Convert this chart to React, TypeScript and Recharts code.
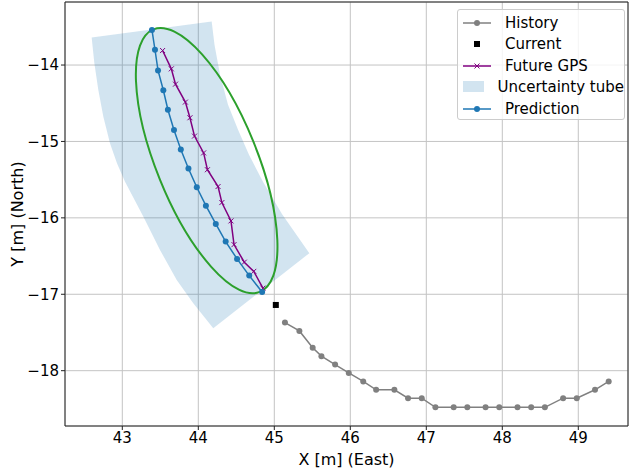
import React from "react";
import {
  CartesianGrid,
  ReferenceArea,
  Scatter,
  ScatterChart,
  XAxis,
  YAxis
} from "recharts";

// past track (gray)
const historyX = [45.14, 45.33, 45.505, 45.62, 45.8, 45.98, 46.17, 46.34, 46.58, 46.76, 46.94, 47.12, 47.36, 47.54, 47.78, 47.96, 48.2, 48.38, 48.56, 48.8, 48.98, 49.22, 49.4];
const historyY = [-17.37, -17.48, -17.7, -17.81, -17.92, -18.03, -18.14, -18.25, -18.25, -18.36, -18.36, -18.48, -18.48, -18.48, -18.48, -18.48, -18.48, -18.48, -18.48, -18.36, -18.36, -18.25, -18.14];

const currentX = [45.02];
const currentY = [-17.14];

const gpsX = [43.53, 43.645, 43.7, 43.83, 43.89, 43.95, 44.07, 44.12, 44.26, 44.31, 44.43, 44.47, 44.605, 44.73, 44.85];
const gpsY = [-13.81, -14.05, -14.25, -14.485, -14.69, -14.93, -15.15, -15.37, -15.59, -15.8, -16.04, -16.35, -16.58, -16.7, -16.92];

const predX = [43.39, 43.43, 43.47, 43.54, 43.6, 43.68, 43.77, 43.87, 43.98, 44.1, 44.23, 44.36, 44.51, 44.67, 44.84];
const predY = [-13.54, -13.8, -14.07, -14.33, -14.585, -14.85, -15.105, -15.354, -15.6, -15.84, -16.08, -16.31, -16.537, -16.756, -16.97];

// tube outline: left edge top->bottom, then right edge bottom->top
const tubeX = [42.597, 42.632, 42.684, 42.75, 42.838, 42.93, 43.036, 43.276, 43.496, 43.716, 43.934, 44.197, 45.461, 45.101, 44.851, 44.667, 44.523, 44.391, 44.286, 44.213, 44.176];
const tubeY = [-13.639, -13.974, -14.324, -14.673, -15.022, -15.284, -15.528, -15.983, -16.42, -16.812, -17.117, -17.445, -16.462, -15.948, -15.529, -15.175, -14.847, -14.52, -14.127, -13.734, -13.429];

// ellipse: major axis ends, then minor axis ends
const ellipseX = [43.41, 44.81, 43.497, 44.726];
const ellipseY = [-13.534, -16.968, -15.5, -15.002];

const xTicks = [43, 44, 45, 46, 47, 48, 49];
const yTicks = [-18, -17, -16, -15, -14];
const xDomain = [42.246, 49.654];
const yDomain = [-18.724, -13.175];

const zip = (xs: number[], ys: number[]) => xs.map((x, i) => ({ x, y: ys[i] }));

const FONT = "'DejaVu Sans', sans-serif";
const BLUE = "#1f77b4";
const GRAY = "#808080";
const PURPLE = "#800080";
const GREEN = "#2ca02c";

const fmt = (v: number) => (v < 0 ? "\u2212" + Math.abs(v) : String(v));

const dot = (color: string, r: number) => (p: any) => <circle cx={p.cx} cy={p.cy} r={r} fill={color} />;
const square = (p: any) => <rect x={p.cx - 3} y={p.cy - 3} width={6} height={6} fill="#000" />;
const cross = (p: any) => (
  <g stroke={PURPLE} strokeWidth={1}>
    <line x1={p.cx - 2.5} y1={p.cy - 2.5} x2={p.cx + 2.5} y2={p.cy + 2.5} />
    <line x1={p.cx - 2.5} y1={p.cy + 2.5} x2={p.cx + 2.5} y2={p.cy - 2.5} />
  </g>
);
const none = () => <g />;

const tubePath = (p: any) => {
  const pts = p.points as { x: number; y: number }[];
  const d = pts.map((q, i) => `${i ? "L" : "M"}${q.x},${q.y}`).join(" ") + " Z";
  return <path d={d} fill={BLUE} fillOpacity={0.2} stroke="none" />;
};

const ellipsePath = (p: any) => {
  const [a1, a2, b1, b2] = p.points as { x: number; y: number }[];
  const cx = (a1.x + a2.x) / 2;
  const cy = (a1.y + a2.y) / 2;
  const rx = Math.hypot(a2.x - a1.x, a2.y - a1.y) / 2;
  const ry = Math.hypot(b2.x - b1.x, b2.y - b1.y) / 2;
  const ang = (Math.atan2(a2.y - a1.y, a2.x - a1.x) * 180) / Math.PI;
  return <ellipse cx={cx} cy={cy} rx={rx} ry={ry} transform={`rotate(${ang} ${cx} ${cy})`} fill="none" stroke={GREEN} strokeWidth={2} />;
};

function LegendIcon({ kind }: { kind: string }) {
  return (
    <svg width={30} height={14} style={{ display: "block" }}>
      {kind === "history" && (<><line x1={1} y1={7} x2={29} y2={7} stroke={GRAY} strokeWidth={1.5} /><circle cx={15} cy={7} r={3} fill={GRAY} /></>)}
      {kind === "current" && <rect x={12} y={4} width={6} height={6} fill="#000" />}
      {kind === "gps" && (<><line x1={1} y1={7} x2={29} y2={7} stroke={PURPLE} strokeWidth={1.5} /><path d="M12.5,4.5 L17.5,9.5 M12.5,9.5 L17.5,4.5" stroke={PURPLE} strokeWidth={1} /></>)}
      {kind === "tube" && <rect x={1} y={1} width={28} height={11} fill={BLUE} fillOpacity={0.2} />}
      {kind === "pred" && (<><line x1={1} y1={7} x2={29} y2={7} stroke={BLUE} strokeWidth={1.5} /><circle cx={15} cy={7} r={3} fill={BLUE} /></>)}
    </svg>
  );
}

const legendItems = [
  ["history", "History"],
  ["current", "Current"],
  ["gps", "Future GPS"],
  ["tube", "Uncertainty tube"],
  ["pred", "Prediction"]
];

export default function App() {
  return (
    <div style={{ position: "absolute", left: 0, top: 0, width: 629, height: 472, background: "#fff", fontFamily: FONT }}>
      <ScatterChart width={629} height={472} margin={{ top: 2, right: 1, bottom: 0, left: 0 }}>
        <CartesianGrid stroke="#c4c4c4" strokeWidth={1} />
        <XAxis
          type="number"
          dataKey="x"
          domain={xDomain}
          ticks={xTicks}
          allowDataOverflow
          height={46}
          tickFormatter={fmt}
          tickSize={4}
          axisLine={false}
          tickLine={{ stroke: "#222" }}
          tick={{ fill: "#000", fontSize: 15, fontFamily: FONT }}
          label={{ value: "X [m] (East)", position: "insideBottom", offset: 7, fill: "#000", fontSize: 16, fontFamily: FONT }}
        />
        <YAxis
          type="number"
          dataKey="y"
          domain={yDomain}
          ticks={yTicks}
          allowDataOverflow
          width={65}
          tickFormatter={fmt}
          tickSize={4}
          axisLine={false}
          tickLine={{ stroke: "#222" }}
          tick={{ fill: "#000", fontSize: 15, fontFamily: FONT }}
          label={{ value: "Y [m] (North)", angle: -90, position: "insideLeft", offset: 17, fill: "#000", fontSize: 16, fontFamily: FONT, style: { textAnchor: "middle" } }}
        />
        <Scatter data={zip(tubeX, tubeY)} shape={none} line={tubePath} lineJointType="linear" isAnimationActive={false} />
        <Scatter data={zip(ellipseX, ellipseY)} shape={none} line={ellipsePath} isAnimationActive={false} />
        <Scatter data={zip(historyX, historyY)} shape={dot(GRAY, 3)} line={{ stroke: GRAY, strokeWidth: 1.5 }} lineJointType="linear" isAnimationActive={false} />
        <Scatter data={zip(currentX, currentY)} shape={square} isAnimationActive={false} />
        <Scatter data={zip(gpsX, gpsY)} shape={cross} line={{ stroke: PURPLE, strokeWidth: 1.5 }} lineJointType="linear" isAnimationActive={false} />
        <Scatter data={zip(predX, predY)} shape={dot(BLUE, 3)} line={{ stroke: BLUE, strokeWidth: 1.5 }} lineJointType="linear" isAnimationActive={false} />
        <ReferenceArea x1={xDomain[0]} x2={xDomain[1]} y1={yDomain[0]} y2={yDomain[1]} fill="none" stroke="#222" strokeWidth={1} ifOverflow="visible" />
      </ScatterChart>
      <div
        style={{
          position: "absolute",
          left: 457,
          top: 9,
          width: 168,
          height: 111,
          border: "1px solid #cccccc",
          borderRadius: 3,
          background: "rgba(255,255,255,0.8)",
          boxSizing: "border-box",
          padding: "2px 0 0 4px"
        }}
      >
        {legendItems.map(([k, label]) => (
          <div key={k} style={{ display: "flex", alignItems: "center", height: 21.5, fontSize: 15, color: "#000" }}>
            <LegendIcon kind={k} />
            <span style={{ marginLeft: 13, whiteSpace: "nowrap" }}>{label}</span>
          </div>
        ))}
      </div>
    </div>
  );
}
